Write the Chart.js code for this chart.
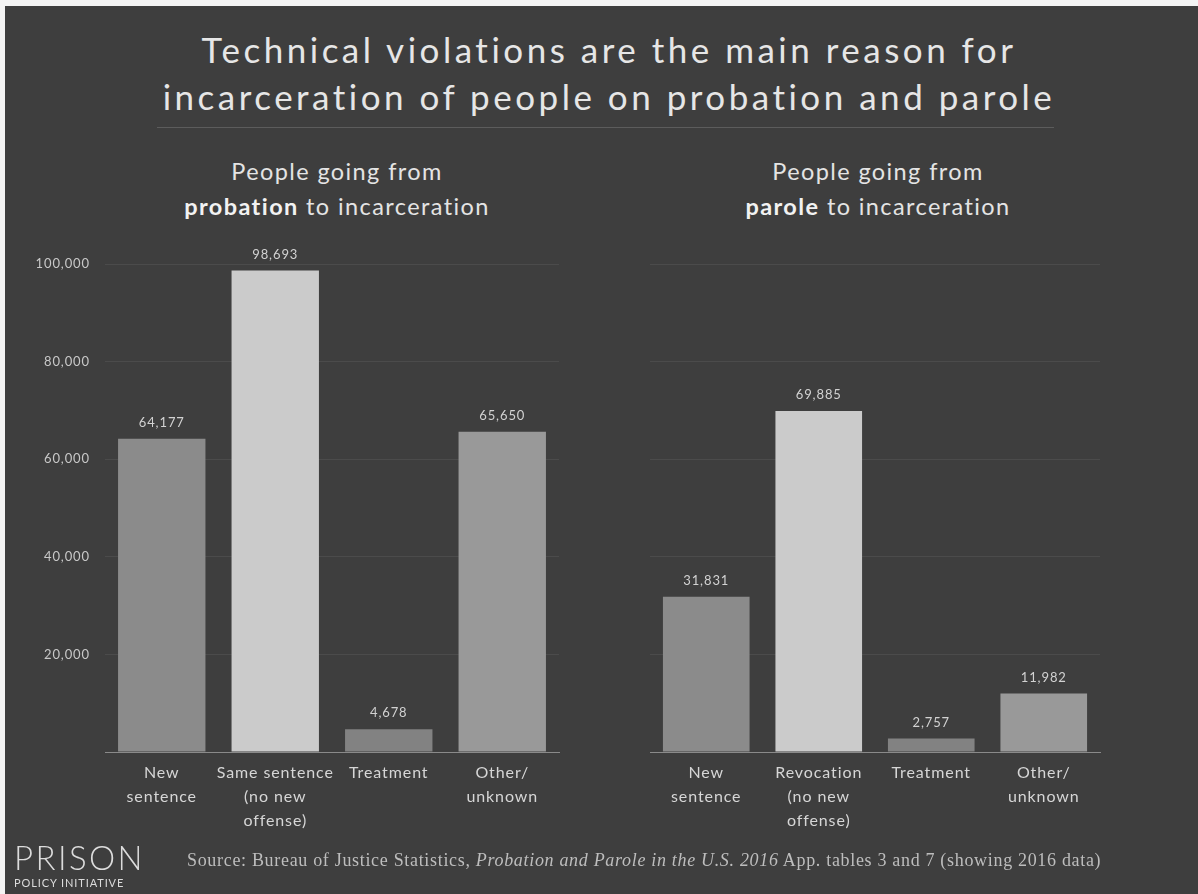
<!DOCTYPE html>
<html>
<head>
<meta charset="utf-8">
<script src="https://cdn.jsdelivr.net/npm/chart.js@4.4.1/dist/chart.umd.min.js"></script>
<style>
  html, body { margin: 0; padding: 0; }
  body { width: 1198px; height: 894px; background: #f4f4f4; position: relative; overflow: hidden; font-family: "Lato", "Noto Sans", sans-serif; }
  #panel { position: absolute; left: 5px; top: 6px; width: 1193px; height: 888px; background: #3e3e3e; }
  .abs { position: absolute; }
  #title { left: 10px; width: 1198px; top: 26px; text-align: center; color: #e6e6e6; font-size: 35px; line-height: 47px; letter-spacing: 3.5px; font-weight: 400; }
  #rule { left: 157px; top: 127px; width: 897px; height: 1px; background: #5c5c5c; }
  .sub { top: 154px; text-align: center; color: #e4e4e4; font-size: 23.5px; line-height: 35px; letter-spacing: 1.4px; }
  .sub b { font-weight: 700; color: #f2f2f2; }
  #subL { left: 87px; width: 500px; }
  #subR { left: 628px; width: 500px; }
  #logo { left: 14px; top: 840px; color: #dcdcdc; }
  #logo .big { font-size: 33px; line-height: 34px; letter-spacing: 2.4px; font-weight: 300; }
  #logo .small { font-size: 11px; line-height: 14px; letter-spacing: 0.9px; margin-top: 2px; }
  #source { left: 187px; top: 849px; color: #bdbdbd; font-family: "Liberation Serif", "DejaVu Serif", serif; font-size: 18px; line-height: 22px; letter-spacing: 0.68px; white-space: nowrap; }
  canvas { position: absolute; top: 0; }
  #c1 { left: 0; }
  #c2 { left: 600px; }
</style>
</head>
<body>
<div id="panel"></div>
<div id="title" class="abs">Technical violations are the main reason for<br>incarceration of people on probation and parole</div>
<div id="rule" class="abs"></div>
<div id="subL" class="abs sub">People going from<br><b>probation</b> to incarceration</div>
<div id="subR" class="abs sub">People going from<br><b>parole</b> to incarceration</div>
<canvas id="c1" width="600" height="894"></canvas>
<canvas id="c2" width="598" height="894"></canvas>
<div id="logo" class="abs"><div class="big">PRISON</div><div class="small">POLICY INITIATIVE</div></div>
<div id="source" class="abs">Source: Bureau of Justice Statistics, <i>Probation and Parole in the U.S. 2016</i> App. tables 3 and 7 (showing 2016 data)</div>
<script>
// ---- Data ----
const probationCategories = [["New", "sentence"], ["Same sentence", "(no new", "offense)"], ["Treatment"], ["Other/", "unknown"]];
const probationValues = [64177, 98693, 4678, 65650];
const paroleCategories = [["New", "sentence"], ["Revocation", "(no new", "offense)"], ["Treatment"], ["Other/", "unknown"]];
const paroleValues = [31831, 69885, 2757, 11982];
const yMin = 0;
const yMax = 100000;
const yStep = 20000;
const barColors = ["#8b8b8b", "#cbcbcb", "#828282", "#999999"];

const FONT = "'Lato', 'Noto Sans', sans-serif";

const spacing = {
  id: 'spacing',
  beforeDraw(chart) { chart.ctx.letterSpacing = '0.9px'; },
  afterDraw(chart) { chart.ctx.letterSpacing = '0px'; }
};

const valueLabels = {
  id: 'valueLabels',
  afterDatasetsDraw(chart) {
    const ctx = chart.ctx;
    const meta = chart.getDatasetMeta(0);
    const data = chart.data.datasets[0].data;
    ctx.save();
    ctx.letterSpacing = '0.9px';
    ctx.fillStyle = '#d2d2d2';
    ctx.font = "13px " + FONT;
    ctx.textAlign = 'center';
    ctx.textBaseline = 'middle';
    meta.data.forEach((bar, i) => {
      ctx.fillText(data[i].toLocaleString('en-US'), bar.x, bar.y - 16);
    });
    ctx.restore();
  }
};

function makeChart(id, labels, values, opts) {
  return new Chart(document.getElementById(id), {
    type: 'bar',
    data: {
      labels: labels,
      datasets: [{
        data: values,
        backgroundColor: barColors,
        borderWidth: 0,
        barPercentage: 0.77,
        categoryPercentage: 1.0
      }]
    },
    options: {
      responsive: false,
      animation: false,
      events: [],
      layout: { padding: { top: 264, bottom: 42, left: 0, right: opts.padRight } },
      plugins: { legend: { display: false }, tooltip: { enabled: false }, title: { display: false } },
      scales: {
        x: {
          grid: { display: false, drawTicks: false },
          border: { display: true, color: '#8a8a8a', width: 1 },
          ticks: {
            color: '#d6d6d6',
            padding: 9,
            maxRotation: 0,
            autoSkip: false,
            font: { family: FONT, size: 16, lineHeight: 1.5 }
          },
          afterFit(scale) { scale.height = 100; }
        },
        y: {
          min: yMin,
          max: yMax,
          grid: {
            drawTicks: false,
            color: (c) => c.tick && c.tick.value === 0 ? 'rgba(0,0,0,0)' : 'rgba(255,255,255,0.07)',
            lineWidth: 1
          },
          border: { display: false },
          ticks: {
            display: opts.showTicks,
            stepSize: yStep,
            padding: 15,
            color: '#c8c8c8',
            font: { family: FONT, size: 13 },
            callback: (v) => v === 0 ? '' : v.toLocaleString('en-US')
          },
          afterFit(scale) { scale.width = opts.yWidth; }
        }
      }
    },
    plugins: [spacing, valueLabels]
  });
}

makeChart('c1', probationCategories, probationValues, { padRight: 41, yWidth: 105, showTicks: true });
makeChart('c2', paroleCategories, paroleValues, { padRight: 98, yWidth: 50, showTicks: false });
</script>
</body>
</html>
